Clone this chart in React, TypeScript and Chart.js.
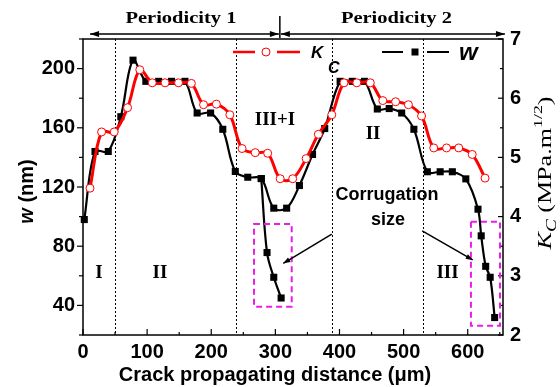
import React, { useEffect, useRef } from 'react';
import { Chart, registerables } from 'chart.js';
Chart.register(...registerables);

// ---- data ----
const kcX = [10.9, 29, 48.7, 69.5, 88.6, 108, 128, 149, 169, 188, 208, 229, 248, 268.6, 288, 307.5, 327, 348, 367, 388, 407, 427, 448, 467.5, 487.5, 507.5, 528, 547, 567, 586, 607, 627];
const kcY = [4.48, 5.43, 5.43, 5.84, 6.48, 6.26, 6.26, 6.26, 6.25, 5.89, 5.9, 5.72, 5.15, 5.08, 5.07, 4.64, 4.64, 4.98, 5.39, 5.72, 6.26, 6.26, 6.26, 5.96, 5.94, 5.89, 5.7, 5.16, 5.16, 5.16, 5.05, 4.65];
const wX = [2, 18.7, 39.4, 59, 78, 98, 118, 138, 159, 178, 199, 218, 237.5, 257, 278, 297.5, 317.6, 337.5, 358, 377, 401, 420, 439, 459, 477.5, 497, 516, 537, 557, 576, 597, 616, 621, 628, 635, 642];
const wY = [98, 144, 144, 167.5, 205.7, 191.4, 191.4, 191.4, 191.4, 170, 170, 159, 130.5, 126.6, 125.7, 105.7, 105.7, 121, 142, 159.5, 191.4, 191.4, 191.4, 172.7, 173, 170, 159, 130.3, 130.3, 130.3, 125.5, 105, 87, 66.4, 59, 31.8];
const corrX = [278, 287, 297.5, 309];
const corrY = [125.7, 75.7, 59, 45];

const xTicks = [0, 100, 200, 300, 400, 500, 600];
const wTicks = [40, 80, 120, 160, 200];
const kTicks = [2, 3, 4, 5, 6, 7];

const dividerX = [50, 238, 389, 530];
const periodX = [11, 307, 658];
const periodLabels = ['Periodicity 1', 'Periodicity 2'];
// boxes: [x0, x1, wTop, wBottom]
const boxes = [[266.7, 325.5, 95, 39.1], [605, 650.3, 96.6, 26.3]];
// arrows: [xStart, wStart, xTip, wTip]
const corrArrows = [[388, 88.2, 312.4, 68.4], [529, 90.3, 607.8, 70.7]];
// region labels: [text, x, w(baseline)]
const regionLabels: [string, number, number][] = [
  ['I', 25, 58.5], ['II', 120, 58.5], ['III+I', 299.4, 161.9], ['II', 452.3, 152.1], ['III', 568.5, 58.5],
];
const corrLabels: [string, number, number][] = [['Corrugation', 474, 111.5], ['size', 475.7, 94.3]];

const SANS = '"Liberation Sans", Arial, sans-serif';
const SERIF = '"Liberation Serif", "Times New Roman", serif';

type Run = { text: string; font: string; dy?: number };
function drawRuns(ctx: CanvasRenderingContext2D, runs: Run[], x: number, y: number, rot = 0, target?: number) {
  ctx.save();
  ctx.translate(x, y);
  ctx.rotate(rot);
  ctx.textBaseline = 'alphabetic';
  ctx.textAlign = 'left';
  let W = 0;
  for (const r of runs) { ctx.font = r.font; W += ctx.measureText(r.text).width; }
  if (target) ctx.scale(target / W, 1);
  let cx = -W / 2;
  for (const r of runs) {
    ctx.font = r.font;
    ctx.fillText(r.text, cx, r.dy || 0);
    cx += ctx.measureText(r.text).width;
  }
  ctx.restore();
}

function head(ctx: CanvasRenderingContext2D, x1: number, y1: number, x2: number, y2: number, len: number, half: number) {
  const a = Math.atan2(y2 - y1, x2 - x1);
  const c = Math.cos(a), s = Math.sin(a);
  ctx.beginPath();
  ctx.moveTo(x2, y2);
  ctx.lineTo(x2 - len * c + half * s, y2 - len * s - half * c);
  ctx.lineTo(x2 - len * c - half * s, y2 - len * s + half * c);
  ctx.closePath();
  ctx.fill();
}

const overlay = {
  id: 'overlay',
  beforeDatasetsDraw(chart: any) {
    const { ctx, chartArea: a, scales } = chart;
    ctx.save();
    ctx.strokeStyle = '#000';
    ctx.lineWidth = 1;
    ctx.setLineDash([2, 2]);
    for (const v of dividerX) {
      const px = Math.round(scales.x.getPixelForValue(v)) + 0.5;
      ctx.beginPath(); ctx.moveTo(px, a.top); ctx.lineTo(px, a.bottom); ctx.stroke();
    }
    ctx.restore();
  },
  afterDraw(chart: any) {
    const { ctx, chartArea: a, scales } = chart;
    const xs = scales.x, yw = scales.yW, yk = scales.yK;
    ctx.save();
    // frame
    ctx.strokeStyle = '#000'; ctx.lineWidth = 1.5;
    ctx.strokeRect(a.left, a.top, a.right - a.left, a.bottom - a.top);
    // ticks
    ctx.lineWidth = 1.2;
    for (let v = 0; v <= 650; v += 50) {
      const px = xs.getPixelForValue(v);
      ctx.beginPath(); ctx.moveTo(px, a.bottom); ctx.lineTo(px, a.bottom - (v % 100 === 0 ? 6 : 3)); ctx.stroke();
    }
    for (let v = 20; v <= 220; v += 20) {
      const py = yw.getPixelForValue(v);
      ctx.beginPath(); ctx.moveTo(a.left, py); ctx.lineTo(a.left - (v % 40 === 0 ? 6 : 4), py); ctx.stroke();
    }
    for (let v = 2; v <= 7; v += 0.5) {
      const py = yk.getPixelForValue(v);
      ctx.beginPath(); ctx.moveTo(a.right, py); ctx.lineTo(a.right - (v % 1 === 0 ? 5 : 3), py); ctx.stroke();
    }
    // magenta boxes
    ctx.strokeStyle = '#e81ee8'; ctx.lineWidth = 2; ctx.setLineDash([6, 4]);
    for (const b of boxes) {
      const x0 = xs.getPixelForValue(b[0]), x1 = xs.getPixelForValue(b[1]);
      const y0 = yw.getPixelForValue(b[2]), y1 = yw.getPixelForValue(b[3]);
      ctx.strokeRect(x0, y0, x1 - x0, y1 - y0);
    }
    ctx.setLineDash([]);
    // corrugation arrows
    ctx.strokeStyle = '#000'; ctx.fillStyle = '#000'; ctx.lineWidth = 1.5;
    for (const r of corrArrows) {
      const x1 = xs.getPixelForValue(r[0]), y1 = yw.getPixelForValue(r[1]);
      const x2 = xs.getPixelForValue(r[2]), y2 = yw.getPixelForValue(r[3]);
      ctx.beginPath(); ctx.moveTo(x1, y1); ctx.lineTo(x2, y2); ctx.stroke();
      head(ctx, x1, y1, x2, y2, 7, 2.5);
    }
    // periodicity arrows
    const py = a.top - 5;
    const p0 = xs.getPixelForValue(periodX[0]), p1 = xs.getPixelForValue(periodX[1]), p2 = xs.getPixelForValue(periodX[2]);
    ctx.lineWidth = 1.5;
    ctx.beginPath(); ctx.moveTo(p0, py); ctx.lineTo(p1 - 1, py); ctx.moveTo(p1 + 1, py); ctx.lineTo(p2, py); ctx.stroke();
    head(ctx, p1, py, p0, py, 9, 3); head(ctx, p0, py, p1 - 1, py, 9, 3);
    head(ctx, p2, py, p1 + 1, py, 9, 3); head(ctx, p1, py, p2, py, 9, 3);
    ctx.beginPath(); ctx.moveTo(p1, 16); ctx.lineTo(p1, a.top - 1); ctx.stroke();
    ctx.fillStyle = '#000';
    drawRuns(ctx, [{ text: periodLabels[0], font: `bold 17px ${SERIF}` }], (p0 + p1) / 2 - 4, 23, 0, 111);
    drawRuns(ctx, [{ text: periodLabels[1], font: `bold 17px ${SERIF}` }], (p1 + p2) / 2 + 4, 23, 0, 111);
    // region labels
    for (const [t, xv, wv] of regionLabels) {
      drawRuns(ctx, [{ text: t, font: `bold 19px ${SERIF}` }], xs.getPixelForValue(xv), yw.getPixelForValue(wv));
    }
    for (const [t, xv, wv] of corrLabels) {
      drawRuns(ctx, [{ text: t, font: `bold 18px ${SANS}` }], xs.getPixelForValue(xv), yw.getPixelForValue(wv));
    }
    // legend
    const ly = a.top + 13;
    ctx.strokeStyle = '#ff0000'; ctx.lineWidth = 2.5;
    ctx.beginPath(); ctx.moveTo(233, ly); ctx.lineTo(255, ly); ctx.moveTo(277, ly); ctx.lineTo(300, ly); ctx.stroke();
    ctx.fillStyle = '#fff'; ctx.lineWidth = 1;
    ctx.beginPath(); ctx.arc(266, ly, 4, 0, Math.PI * 2); ctx.fill(); ctx.stroke();
    ctx.fillStyle = '#000';
    ctx.textAlign = 'left'; ctx.textBaseline = 'alphabetic';
    ctx.font = `italic bold 17px ${SANS}`; ctx.fillText('K', 311, ly + 6);
    ctx.font = `italic bold 16px ${SANS}`; ctx.fillText('C', 328, ly + 21);
    ctx.strokeStyle = '#000'; ctx.lineWidth = 2;
    ctx.beginPath(); ctx.moveTo(382, ly); ctx.lineTo(403, ly); ctx.moveTo(427, ly); ctx.lineTo(449, ly); ctx.stroke();
    ctx.fillRect(411.5, ly - 3.5, 7, 7);
    ctx.font = `italic bold 24px ${SANS}`; ctx.fillText('w', 459, ly + 8);
    // axis titles
    drawRuns(ctx, [{ text: 'w', font: `italic bold 20px ${SANS}` }, { text: ' (nm)', font: `bold 20px ${SANS}` }], 33, 191.5, -Math.PI / 2);
    drawRuns(ctx, [
      { text: 'K', font: `italic 19px ${SERIF}` },
      { text: 'C', font: `italic 14px ${SERIF}`, dy: 5 },
      { text: ' (MPa.m', font: `19px ${SERIF}` },
      { text: '1/2', font: `13px ${SERIF}`, dy: -9 },
      { text: ')', font: `19px ${SERIF}` },
    ], 551, 173, -Math.PI / 2, 153);
    drawRuns(ctx, [{ text: 'Crack propagating distance (\u03bcm)', font: `bold 20px ${SANS}` }], 275, 381);
    ctx.restore();
  },
};

const tickFont = { family: SANS, size: 20, weight: 'bold' as const };

export default function App() {
  const ref = useRef<HTMLCanvasElement>(null);
  useEffect(() => {
    const canvas = ref.current!;
    const chart = new Chart(canvas, {
      type: 'line',
      data: {
        datasets: [
          {
            label: 'Kc', data: kcX.map((x, i) => ({ x, y: kcY[i] })), yAxisID: 'yK', order: 0,
            borderColor: '#ff0000', backgroundColor: '#ffffff', borderWidth: 3,
            pointStyle: 'circle', pointRadius: 4, pointBorderWidth: 1, pointBorderColor: '#ff0000', pointBackgroundColor: '#ffffff',
            tension: 0.35, clip: false,
          },
          {
            label: 'w', data: wX.map((x, i) => ({ x, y: wY[i] })), yAxisID: 'yW', order: 1,
            borderColor: '#000000', backgroundColor: '#000000', borderWidth: 2.2,
            pointStyle: 'rect', pointRadius: 5, pointBorderWidth: 0, pointBackgroundColor: '#000000',
            tension: 0.35, clip: false,
          },
          {
            label: 'w corrugation', data: corrX.map((x, i) => ({ x, y: corrY[i] })), yAxisID: 'yW', order: 2,
            borderColor: '#000000', backgroundColor: '#000000', borderWidth: 2.2,
            pointStyle: 'rect', pointRadius: 5, pointBorderWidth: 0, pointBackgroundColor: '#000000',
            tension: 0.35, clip: false,
          },
        ],
      },
      options: {
        responsive: false, animation: false, devicePixelRatio: 1, events: [],
        layout: { padding: { left: 0, right: 0, top: 39, bottom: 0 } },
        plugins: { legend: { display: false }, tooltip: { enabled: false } },
        scales: {
          x: {
            type: 'linear', position: 'bottom', min: 0, max: 655,
            grid: { display: false, drawTicks: false }, border: { display: false },
            ticks: {
              stepSize: 100, includeBounds: false, autoSkip: false, maxRotation: 0, padding: 5,
              color: '#000', font: tickFont,
              callback: (v: any) => (xTicks.includes(Number(v)) ? String(v) : ''),
            },
            afterFit: (s: any) => { s.height = 52; },
          },
          yW: {
            type: 'linear', position: 'left', min: 20, max: 220,
            grid: { display: false, drawTicks: false }, border: { display: false },
            ticks: {
              stepSize: 20, autoSkip: false, padding: 8, color: '#000', font: tickFont,
              callback: (v: any) => (wTicks.includes(Number(v)) ? String(v) : ''),
            },
            afterFit: (s: any) => { s.width = 83; },
          },
          yK: {
            type: 'linear', position: 'right', min: 2, max: 7,
            grid: { display: false, drawTicks: false }, border: { display: false },
            ticks: {
              stepSize: 1, autoSkip: false, padding: 7, color: '#000', font: tickFont,
              callback: (v: any) => (kTicks.includes(Number(v)) ? String(v) : ''),
            },
            afterFit: (s: any) => { s.width = 57; },
          },
        },
      } as any,
      plugins: [overlay],
    });
    return () => chart.destroy();
  }, []);
  return (
    <div style={{ position: 'fixed', left: 0, top: 0, width: 560, height: 387, background: '#fff' }}>
      <canvas ref={ref} width={560} height={387} style={{ display: 'block', width: 560, height: 387 }} />
    </div>
  );
}
